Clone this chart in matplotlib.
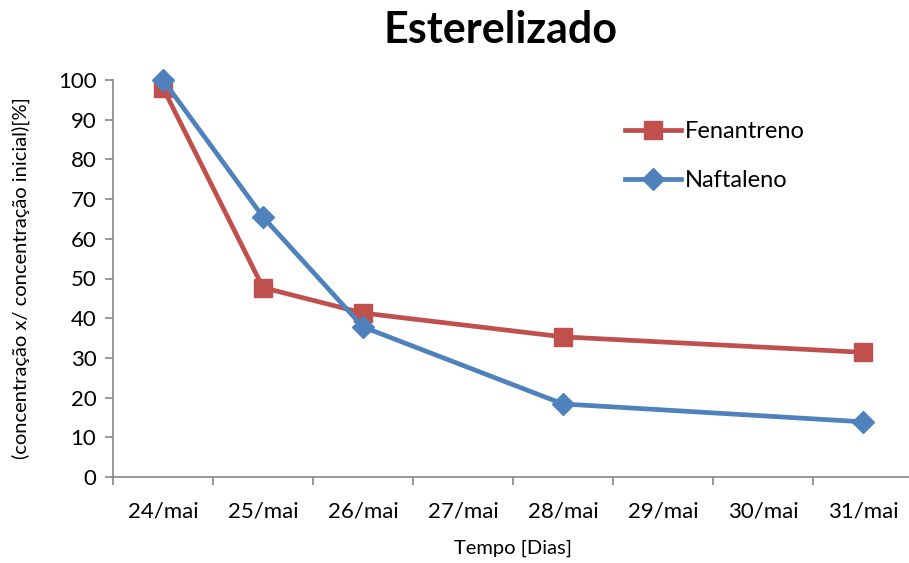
import matplotlib.pyplot as plt
import numpy as np

# dias do ensaio (eixo de categorias)
dias = ['24/mai', '25/mai', '26/mai', '27/mai', '28/mai', '29/mai', '30/mai', '31/mai']

# dias com medição e razão C/C0 [%]
dias_medidos = ['24/mai', '25/mai', '26/mai', '28/mai', '31/mai']
fenantreno = [98.0, 47.7, 41.3, 35.3, 31.4]
naftaleno = [100.0, 65.5, 37.8, 18.4, 13.9]

VERMELHO, AZUL = '#C0504D', '#4F81BD'
CINZA = '#868686'

plt.rcParams['font.family'] = ['Lato', 'DejaVu Sans']

fig = plt.figure(figsize=(9.09, 5.63), dpi=100)
ax = fig.add_axes([113 / 909, 86 / 563, 800 / 909, 397 / 563])

xs = [dias.index(d) for d in dias_medidos]
ax.plot(xs, fenantreno, '-s', color=VERMELHO, linewidth=3.4, markersize=13,
        label='Fenantreno', clip_on=False)
ax.plot(xs, naftaleno, '-D', color=AZUL, linewidth=3.4, markersize=11,
        label='Naftaleno', clip_on=False)

ax.set_xlim(-0.5, len(dias) - 0.5)
ax.set_ylim(0, 100)
ax.set_yticks(np.arange(0, 101, 10))
ax.set_xticks(np.arange(len(dias)))
ax.set_xticklabels(dias)
ax.set_xticks(np.arange(len(dias) + 1) - 0.5, minor=True)
ax.tick_params(axis='x', which='major', length=0, pad=18, labelsize=16)
ax.tick_params(axis='x', which='minor', length=6, color=CINZA, width=1.2)
ax.tick_params(axis='y', length=6, color=CINZA, width=1.2, labelsize=16, pad=6)

for lado in ['top', 'right']:
    ax.spines[lado].set_visible(False)
for lado in ['left', 'bottom']:
    ax.spines[lado].set_color(CINZA)
    ax.spines[lado].set_linewidth(1.2)

ax.set_xlabel('Tempo [Dias]', fontsize=14.5, labelpad=13)
ax.set_ylabel('(concentração x/ concentração inicial)[%]', fontsize=14.5, labelpad=20)
fig.text(500 / 909, 1 - 30 / 563, 'Esterelizado', fontsize=31, fontweight='bold',
         ha='center', va='center')

ax.legend(loc='upper left', bbox_to_anchor=(0.613, 0.95), frameon=False,
          fontsize=17, handlelength=2.4, labelspacing=1.2, handletextpad=0.15)

fig.savefig('out.png', dpi=100)
